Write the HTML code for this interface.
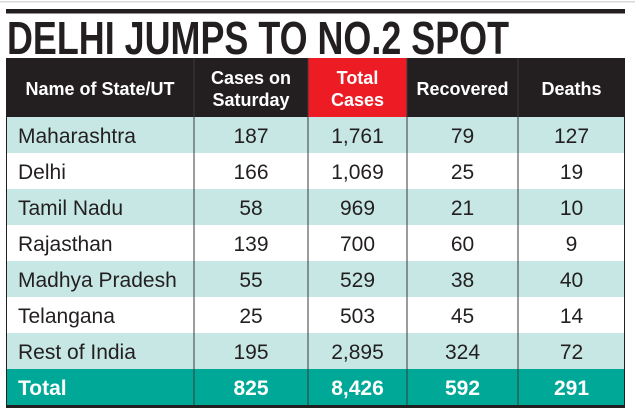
<!DOCTYPE html>
<html><head><meta charset="utf-8"><style>
html,body{margin:0;padding:0;background:#fff;width:635px;height:413px;overflow:hidden}
svg{display:block;font-family:"Liberation Sans",sans-serif}
</style></head><body>
<svg width="635" height="413" viewBox="0 0 635 413">
<rect x="0" y="1" width="635" height="1.5" fill="#d8d8d8"/>
<rect x="6" y="9" width="619" height="4.5" fill="#231f20"/>
<text x="7" y="54" font-size="46" font-weight="bold" fill="#231f20" textLength="502" lengthAdjust="spacingAndGlyphs">DELHI JUMPS TO NO.2 SPOT</text>
<g id="tbl"></g>
</svg>
<script>
const states=["Maharashtra","Delhi","Tamil Nadu","Rajasthan","Madhya Pradesh","Telangana","Rest of India"];
const casesSat=["187","166","58","139","55","25","195"];
const totalCases=["1,761","1,069","969","700","529","503","2,895"];
const recovered=["79","25","21","60","38","45","324"];
const deaths=["127","19","10","9","40","14","72"];
const totals=["825","8,426","592","291"];
const NS="http://www.w3.org/2000/svg";
const g=document.getElementById("tbl");
const X=[6,194,308,407,518,625];
const top0=58,headH=59,rowH=36;
function mk(tag,attrs,parent){const e=document.createElementNS(NS,tag);for(const k in attrs)e.setAttribute(k,attrs[k]);(parent||g).appendChild(e);return e;}
function txt(s,x,y,attrs){const t=mk("text",Object.assign({x:x,y:y},attrs));t.textContent=s;return t;}
// header
let h=mk("rect",{x:6,y:top0,width:619,height:headH,fill:"#231f20"});


let r=mk("rect",{x:X[2],y:top0,width:X[3]-X[2],height:headH,fill:"#ed1c24"});


const hdr=[["Name of State/UT"],["Cases on","Saturday"],["Total","Cases"],["Recovered"],["Deaths"]];
hdr.forEach((lines,i)=>{
  const cx=(X[i]+X[i+1])/2;
  lines.forEach((l,j)=>{
    const y=lines.length===1?95:(top0+26+j*22);
    const t=txt(l,cx,y,{"font-size":18,"font-weight":"bold",fill:"#fff","text-anchor":"middle"});
    
    
  });
});
const cols=[casesSat,totalCases,recovered,deaths];
states.forEach((s,i)=>{
  const y=top0+headH+i*rowH;
  const bg=mk("rect",{x:6,y:y,width:619,height:rowH,fill:i%2===0?"#c6e7e3":"#ffffff"});
  
  
  const n=txt(s,18,y+26,{"font-size":21,fill:"#231f20"});
  
  
  cols.forEach((c,k)=>{
    const t=txt(c[i],(X[k+1]+X[k+2])/2,y+26,{"font-size":21,fill:"#231f20","text-anchor":"middle"});
    
    
  });
});
const ty=top0+headH+states.length*rowH;
const tr=mk("rect",{x:6,y:ty,width:619,height:rowH,fill:"#00a897"});


const tl=txt("Total",18,ty+26,{"font-size":21,"font-weight":"bold",fill:"#fff"});


totals.forEach((v,k)=>{
  const t=txt(v,(X[k+1]+X[k+2])/2,ty+26,{"font-size":21,"font-weight":"bold",fill:"#fff","text-anchor":"middle"});
  
  
});
const bottom=ty+rowH;
[1,2,3,4].forEach(k=>{
  const l=mk("line",{x1:X[k],x2:X[k],y1:top0,y2:bottom,stroke:"#3a3a3a","stroke-width":1});
  
  
});
const lb=mk("line",{x1:6.5,x2:6.5,y1:top0,y2:bottom,stroke:"#231f20","stroke-width":1});


const rb=mk("line",{x1:624.5,x2:624.5,y1:top0,y2:bottom,stroke:"#231f20","stroke-width":1});


const bb=mk("rect",{x:6,y:bottom,width:619,height:3,fill:"#231f20"});


</script>
</body></html>
